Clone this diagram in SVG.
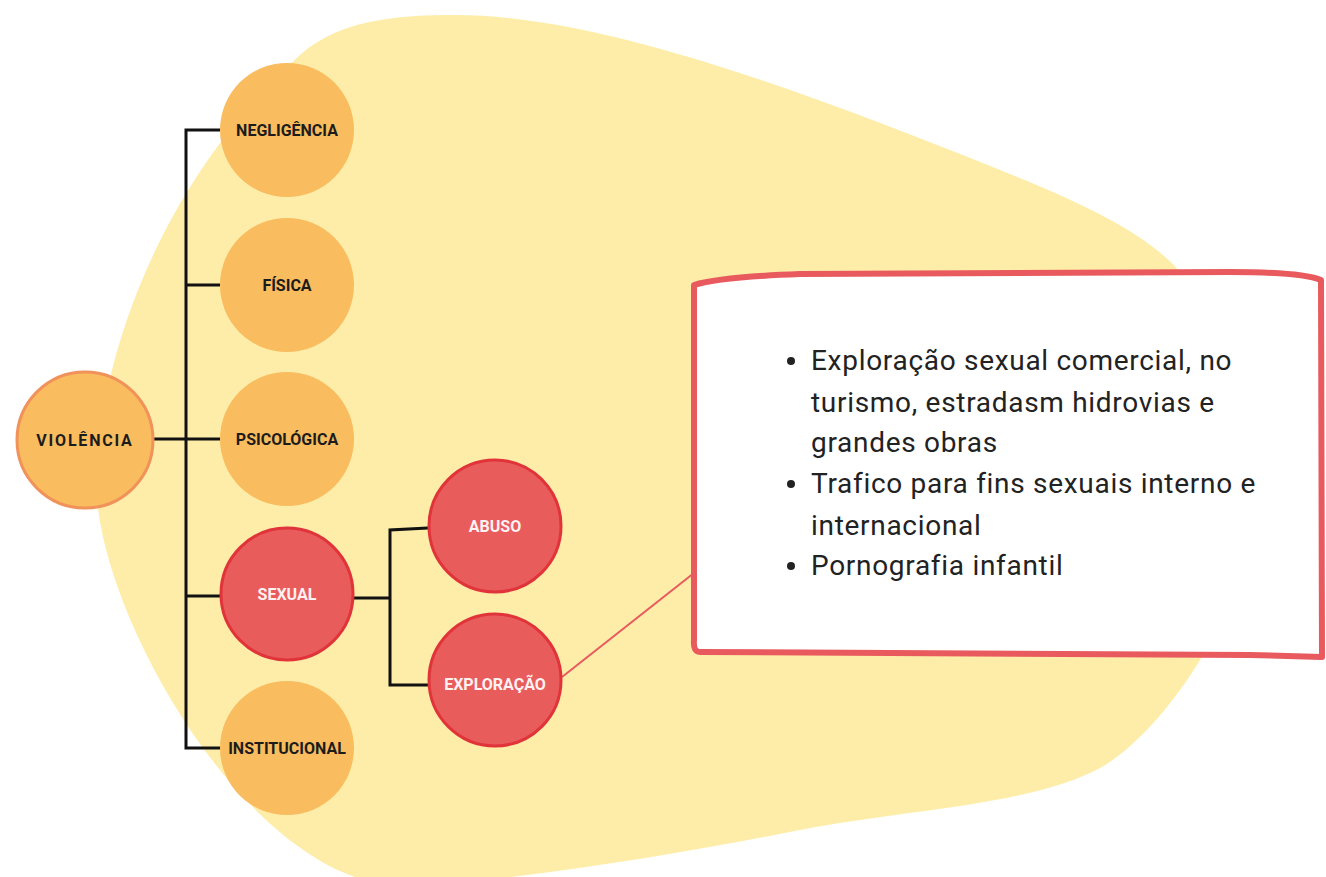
<svg xmlns="http://www.w3.org/2000/svg" width="1326" height="877" viewBox="0 0 1326 877">
<style>
.blob{fill:#FEEDA8;stroke:none}
.orange{fill:#F9BC5E}
.root{fill:#F9BC5E;stroke:#F0925A;stroke-width:3}
.red{fill:#E95C5C;stroke:#E0343A;stroke-width:3}
.lbl{font-family:Roboto,"Liberation Sans",sans-serif;font-weight:bold;font-size:16px;text-anchor:middle;fill:#1c1c1c}
.wlbl{font-family:Roboto,"Liberation Sans",sans-serif;font-weight:bold;font-size:16px;text-anchor:middle;fill:#FFF2F2}
.conn{fill:none;stroke:#111;stroke-width:3;stroke-linejoin:miter}
.body{font-family:Roboto,"Liberation Sans",sans-serif;font-size:28px;letter-spacing:0.7px;fill:#222}
</style>
<rect width="1326" height="877" fill="#ffffff"/>
<path class="blob" d="M 455 15 C 600 15, 800 90, 1000 170 S 1200 280, 1245 420 C 1290 560, 1170 730, 1100 768 C 1030 806, 900 810, 800 830 C 700 850, 500 885, 400 885 C 260 885, 110 640, 97 500 C 91 400, 140 200, 300 55 C 340 19, 400 15, 455 15 Z"/>
<g id="connectors">
<path class="conn" d="M 220 130 H 186 V 748 H 220"/>
<path class="conn" d="M 186 285 H 220"/>
<path class="conn" d="M 154 439 H 220"/>
<path class="conn" d="M 186 596 H 220"/>
<path class="conn" d="M 354 598 H 390"/>
<path class="conn" d="M 428 528 L 390 530 V 685 H 428"/>
<path d="M 562 677 L 694 573" fill="none" stroke="#E85A5E" stroke-width="2"/>
</g>
<g id="violencia">
<circle class="root" cx="85" cy="440" r="68"/>
<text class="lbl" x="85" y="446" style="letter-spacing:1.8px">VIOLÊNCIA</text>
</g>
<g id="negligencia">
<circle class="orange" cx="287" cy="130" r="67"/>
<text class="lbl" x="287" y="136">NEGLIGÊNCIA</text>
</g>
<g id="fisica">
<circle class="orange" cx="287" cy="285" r="67"/>
<text class="lbl" x="287" y="291">FÍSICA</text>
</g>
<g id="psicologica">
<circle class="orange" cx="287" cy="439" r="67"/>
<text class="lbl" x="287" y="445">PSICOLÓGICA</text>
</g>
<g id="sexual">
<circle class="red" cx="287" cy="594" r="66"/>
<text class="wlbl" x="287" y="600">SEXUAL</text>
</g>
<g id="institucional">
<circle class="orange" cx="287" cy="748" r="67"/>
<text class="lbl" x="287" y="754">INSTITUCIONAL</text>
</g>
<g id="abuso">
<circle class="red" cx="495" cy="526" r="66"/>
<text class="wlbl" x="495" y="532">ABUSO</text>
</g>
<g id="exploracao">
<circle class="red" cx="495" cy="680" r="66"/>
<text class="wlbl" x="495" y="690">EXPLORAÇÃO</text>
</g>
<g id="details">
<path d="M 694 285 Q 720 277 800 274 L 1230 272 Q 1300 272 1321 280 L 1322 657 L 1250 655 L 700 652 Q 693 652 694 640 Z" fill="#ffffff" stroke="#E85A5E" stroke-width="6" stroke-linejoin="round"/>
<g class="body">
<circle cx="791" cy="361" r="4" fill="#222"/>
<text x="811" y="370">Exploração sexual comercial, no</text>
<text x="811" y="412">turismo, estradasm hidrovias e</text>
<text x="811" y="452">grandes obras</text>
<circle cx="791" cy="484" r="4" fill="#222"/>
<text x="811" y="493">Trafico para fins sexuais interno e</text>
<text x="811" y="535">internacional</text>
<circle cx="791" cy="566" r="4" fill="#222"/>
<text x="811" y="575">Pornografia infantil</text>
</g>
</g>
</svg>
